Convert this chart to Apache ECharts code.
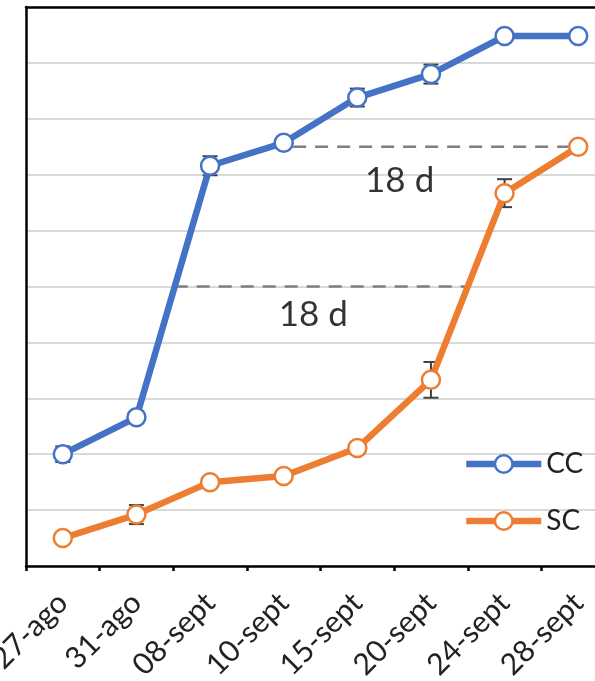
<!DOCTYPE html>
<html>
<head>
<meta charset="utf-8">
<script src="https://cdn.jsdelivr.net/npm/echarts@6/dist/echarts.min.js"></script>
<style>
  html, body { margin: 0; padding: 0; background: #fff; }
  #chart { width: 595px; height: 681px; }
</style>
</head>
<body>
<div id="chart"></div>
<script>
// Sampling dates
const categories = ['27-ago', '31-ago', '08-sept', '10-sept', '15-sept', '20-sept', '24-sept', '28-sept'];

// Cumulative values (%) and their error bars
const ccValues = [20.0, 26.6, 71.6, 75.7, 83.8, 88.0, 94.8, 94.8];
const ccErrors = [1.4, 0.5, 1.7, 0.2, 1.6, 1.7, 0, 0];
const scValues = [5.0, 9.2, 15.0, 16.1, 21.1, 33.3, 66.7, 75.0];
const scErrors = [0, 1.7, 0.5, 0.8, 0.5, 3.2, 2.5, 0];

// Reference levels compared between treatments, with the day gap at each
const levels = [50, 75];
const gapLabels = ['18 d', '18 d'];

const FONT = 'Lato, "Open Sans", sans-serif';
const BLUE = '#4472C4';
const ORANGE = '#ED7D31';

// Fractional category position where a series first reaches a level
function crossing(values, level) {
  for (let i = 0; i < values.length; i++) {
    if (values[i] >= level) {
      if (i === 0) return 0;
      const a = values[i - 1], b = values[i];
      return i - 1 + (level - a) / (b - a);
    }
  }
  return values.length - 1;
}

function errorSeries(values, errors) {
  return {
    type: 'custom',
    xAxisIndex: 0,
    yAxisIndex: 0,
    z: 1,
    silent: true,
    data: values.map((v, i) => [i, v, errors[i]]),
    renderItem: function (params, api) {
      const i = api.value(0), v = api.value(1), e = api.value(2);
      if (!e) return null;
      const top = api.coord([i, v + e]);
      const bot = api.coord([i, v - e]);
      const hw = 7.5;
      const style = { stroke: '#404040', lineWidth: 2 };
      return {
        type: 'group',
        children: [
          { type: 'line', shape: { x1: top[0], y1: top[1], x2: bot[0], y2: bot[1] }, style },
          { type: 'line', shape: { x1: top[0] - hw, y1: top[1], x2: top[0] + hw, y2: top[1] }, style },
          { type: 'line', shape: { x1: bot[0] - hw, y1: bot[1], x2: bot[0] + hw, y2: bot[1] }, style }
        ]
      };
    }
  };
}

// Dashed level lines between the two crossing points, with the gap label
const labelOffsets = [[-8, 28], [-25, 34]];
const gapSeries = [];
levels.forEach((lvl, k) => {
  const x1 = crossing(ccValues, lvl);
  const x2 = crossing(scValues, lvl);
  gapSeries.push({
    type: 'line',
    xAxisIndex: 1,
    yAxisIndex: 0,
    z: 1,
    silent: true,
    symbol: 'none',
    lineStyle: { color: '#7F7F7F', width: 2.5, type: [13, 9] },
    data: [[x1, lvl], [x2, lvl]]
  });
  gapSeries.push({
    type: 'scatter',
    xAxisIndex: 1,
    yAxisIndex: 0,
    z: 3,
    silent: true,
    symbolSize: 0,
    data: [[(x1 + x2) / 2, lvl]],
    label: {
      show: true,
      position: 'inside',
      offset: labelOffsets[k],
      formatter: gapLabels[k],
      fontFamily: FONT,
      fontSize: 35,
      color: '#000'
    }
  });
});

function mainSeries(name, values, color) {
  return {
    name: name,
    type: 'line',
    xAxisIndex: 0,
    yAxisIndex: 0,
    z: 2,
    data: values,
    symbol: 'circle',
    symbolSize: 18,
    lineStyle: { color: color, width: 6.5 },
    itemStyle: { color: '#fff', borderColor: color, borderWidth: 2.5 }
  };
}

const chart = echarts.init(document.getElementById('chart'), null, { renderer: 'canvas' });
chart.setOption({
  animation: false,
  backgroundColor: '#fff',
  grid: { left: 26, top: 7, width: 589, height: 559, containLabel: false, outerBoundsMode: 'none' },
  legend: {
    orient: 'vertical',
    left: 463,
    top: 450,
    padding: 0,
    itemWidth: 75,
    itemHeight: 22,
    itemGap: 29,
    data: ['CC', 'SC'],
    lineStyle: { width: 6.5 },
    itemStyle: { borderWidth: 2.5 },
    textStyle: { fontFamily: FONT, fontSize: 28, color: '#222' }
  },
  xAxis: [
    {
      type: 'category',
      data: categories,
      position: 'bottom',
      boundaryGap: true,
      axisLine: { show: true, lineStyle: { color: '#000', width: 2.5 } },
      axisTick: { show: true, length: 5, lineStyle: { color: '#000', width: 2.5 } },
      axisLabel: {
        rotate: 45,
        margin: 32,
        fontFamily: FONT,
        fontSize: 30,
        color: '#222',
        interval: 0
      },
      splitLine: { show: false }
    },
    {
      type: 'value',
      position: 'top',
      min: -0.5,
      max: 7.5,
      axisLine: { show: true, onZero: false, lineStyle: { color: '#000', width: 2.5 } },
      axisTick: { show: false },
      axisLabel: { show: false },
      splitLine: { show: false }
    }
  ],
  yAxis: {
    type: 'value',
    min: 0,
    max: 100,
    interval: 10,
    axisLine: { show: true, onZero: false, lineStyle: { color: '#000', width: 2.5 } },
    axisTick: { show: false },
    axisLabel: { show: false },
    splitLine: { show: true, lineStyle: { color: '#D9D9D9', width: 2 } }
  },
  series: [
    errorSeries(ccValues, ccErrors),
    errorSeries(scValues, scErrors),
    ...gapSeries,
    mainSeries('CC', ccValues, BLUE),
    mainSeries('SC', scValues, ORANGE)
  ]
});
</script>
</body>
</html>
